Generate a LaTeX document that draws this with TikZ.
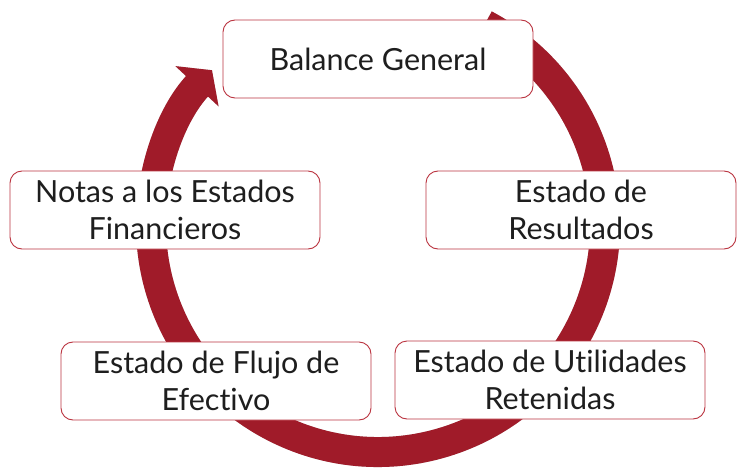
\documentclass[tikz,border=0pt]{standalone}
\usepackage{fontspec}
\setmainfont{Lato}[Ligatures={NoCommon,NoRare}]
\usetikzlibrary{arrows.meta}
\definecolor{ringred}{RGB}{160,27,41}
\definecolor{boxred}{RGB}{186,52,64}
\definecolor{textgray}{RGB}{30,30,30}

\begin{document}
\begin{tikzpicture}[x=1pt,y=1pt,
  statement/.style={draw=boxred, line width=0.9pt, fill=white, rounded corners=12pt,
    minimum width=310pt, minimum height=78pt, align=center, text=textgray,
    font=\fontsize{30.5}{37}\selectfont, inner sep=2pt},
  ringarrow/.style={line width=30pt, -{Triangle[width=58pt,length=22pt]}}]
  \useasboundingbox (0,0) rectangle (742,475);

  % circular arrow, its shadow first
  \coordinate (centre) at (378,250);
  \draw[ringarrow, gray!35, shift={(4,-2)}] (centre) ++(62:227) arc[start angle=62, end angle=-223, radius=227];
  \draw[ringarrow, ringred] (centre) ++(62:227) arc[start angle=62, end angle=-223, radius=227];

  % statements
  \node[statement] (balance)    at (378,416) {Balance General};
  \node[statement] (resultados) at (581,265) {Estado de\\Resultados};
  \node[statement] (utilidades) at (550,95)  {Estado de Utilidades\\Retenidas};
  \node[statement] (flujo)      at (216,94)  {Estado de Flujo de\\Efectivo};
  \node[statement] (notas)      at (165,265) {Notas a los Estados\\Financieros};
\end{tikzpicture}
\end{document}
